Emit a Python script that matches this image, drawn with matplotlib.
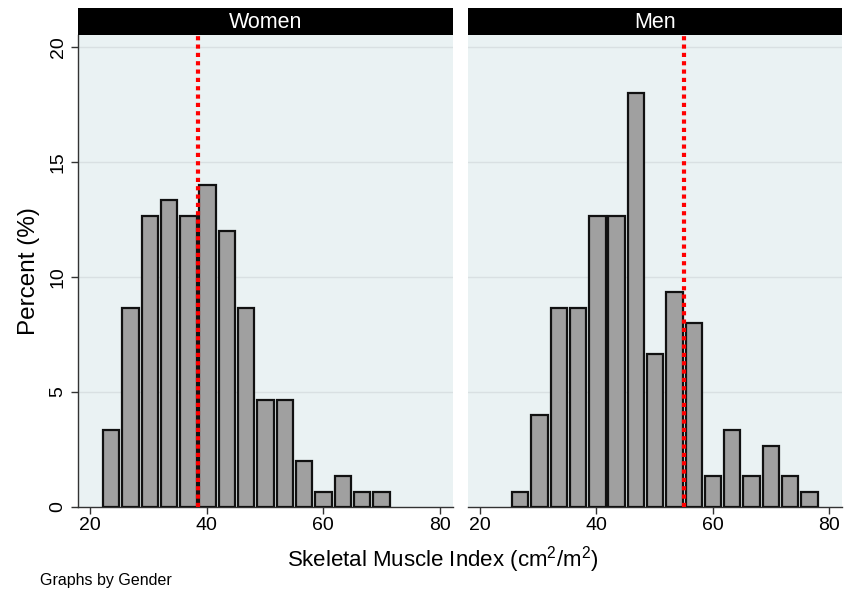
import matplotlib
matplotlib.use("Agg")
import matplotlib.pyplot as plt
import numpy as np

plt.rcParams['font.family'] = ['Liberation Sans', 'DejaVu Sans']
plt.rcParams['mathtext.fontset'] = 'custom'
plt.rcParams['mathtext.rm'] = 'Liberation Sans'
plt.rcParams['mathtext.it'] = 'Liberation Sans'

# ---- data ----
panels = ["Women", "Men"]
bin_width = 3.31
women_start = 21.98
men_start = 25.28
women_pct = [3.33, 8.67, 12.67, 13.33, 12.67, 14.0, 12.0, 8.67, 4.67, 4.67,
             2.0, 0.67, 1.33, 0.67, 0.67]
men_pct = [0.67, 4.0, 8.67, 8.67, 12.67, 12.67, 18.0, 6.67, 9.33, 8.0,
           1.33, 3.33, 1.33, 2.67, 1.33, 0.67]
cutoffs = [38.5, 55.0]
x_ticks = [20, 40, 60, 80]
y_ticks = [0, 5, 10, 15, 20]

W, H = 844, 599
fig = plt.figure(figsize=(W / 100, H / 100), dpi=100)

bg = "#EAF2F3"
grid_c = "#D9E0E2"
bar_c = "#A0A0A0"

panel_px = [(77.7, 452.7), (467.7, 842.0)]
top_px, bot_px, head_top_px = 35, 507, 8

series = [(women_start, women_pct), (men_start, men_pct)]
for i, (name, (x0, x1), (start, vals), cut) in enumerate(zip(panels, panel_px, series, cutoffs)):
    ax = fig.add_axes([x0 / W, 1 - bot_px / H, (x1 - x0) / W, (bot_px - top_px) / H])
    ax.set_facecolor(bg)
    lefts = start + bin_width * np.arange(len(vals))
    centers = lefts + bin_width / 2
    ax.bar(centers, vals, width=bin_width * 0.85, color=bar_c, edgecolor="#111111",
           linewidth=1.6, zorder=3)
    ax.axvline(cut, color="#FF0000", linestyle=(0, (1, 1)), linewidth=3, zorder=4)
    ax.set_xlim(17.9, 82.2)
    ax.set_ylim(0, 20.52)
    ax.set_yticks(y_ticks)
    ax.set_xticks(x_ticks)
    for y in y_ticks[1:]:
        ax.axhline(y, color=grid_c, linewidth=1.0, zorder=1)
    for s in ["top", "right"]:
        ax.spines[s].set_visible(False)
    ax.spines["bottom"].set_color("#333333")
    ax.spines["bottom"].set_linewidth(1.0)
    ax.tick_params(axis="x", direction="out", length=5, width=1, color="#333333",
                   labelsize=14, pad=2)
    if i == 0:
        ax.spines["left"].set_color("#333333")
        ax.spines["left"].set_linewidth(1.0)
        ax.tick_params(axis="y", direction="out", length=5, width=1, color="#333333",
                       labelsize=14, pad=3)
        for lab in ax.get_yticklabels():
            lab.set_rotation(90)
            lab.set_va("center")
        ax.set_ylabel("Percent (%)", fontsize=17.5, labelpad=7)
    else:
        ax.spines["left"].set_visible(False)
        ax.tick_params(axis="y", left=False, labelleft=False)
    # header strip
    hax = fig.add_axes([x0 / W, 1 - top_px / H, (x1 - x0) / W, (top_px - head_top_px) / H])
    hax.set_facecolor("black")
    hax.set_xticks([])
    hax.set_yticks([])
    for s in hax.spines.values():
        s.set_visible(False)
    hax.text(0.5, 0.45, name, color="white", fontsize=15.5, ha="center", va="center",
             transform=hax.transAxes)

fig.text(443 / W, 1 - 560 / H, r"Skeletal Muscle Index (cm$^2$/m$^2$)",
         fontsize=16, ha="center", va="center")
fig.text(40 / W, 1 - 580 / H, "Graphs by Gender", fontsize=11.5, ha="left", va="center")

fig.savefig("out.png", dpi=100, facecolor="white")
